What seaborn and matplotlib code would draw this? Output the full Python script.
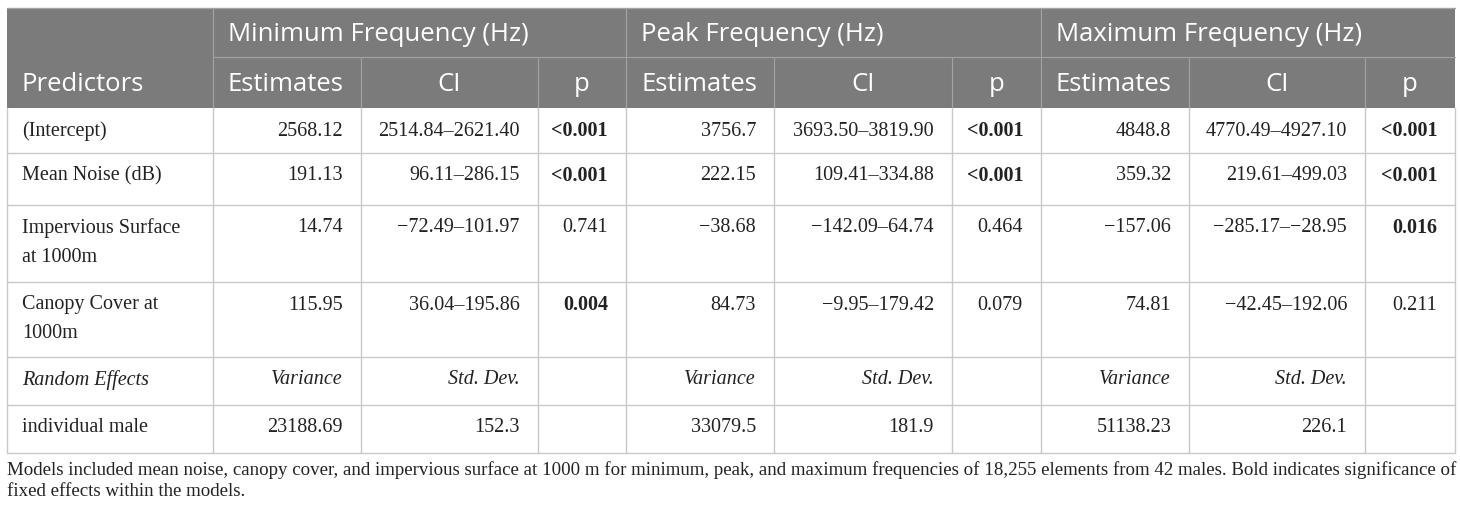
import matplotlib
matplotlib.use("Agg")
import matplotlib.pyplot as plt
import seaborn as sns

# Table content
groups = ["Minimum Frequency (Hz)", "Peak Frequency (Hz)", "Maximum Frequency (Hz)"]
sub_headers = ["Estimates", "CI", "p"]

predictors = ["(Intercept)", "Mean Noise (dB)", "Impervious Surface\nat 1000m", "Canopy Cover at\n1000m"]

min_est = ["2568.12", "191.13", "14.74", "115.95"]
min_ci = ["2514.84\u20132621.40", "96.11\u2013286.15", "\u221272.49\u2013101.97", "36.04\u2013195.86"]
min_p = ["<0.001", "<0.001", "0.741", "0.004"]

peak_est = ["3756.7", "222.15", "\u221238.68", "84.73"]
peak_ci = ["3693.50\u20133819.90", "109.41\u2013334.88", "\u2212142.09\u201364.74", "\u22129.95\u2013179.42"]
peak_p = ["<0.001", "<0.001", "0.464", "0.079"]

max_est = ["4848.8", "359.32", "\u2212157.06", "74.81"]
max_ci = ["4770.49\u20134927.10", "219.61\u2013499.03", "\u2212285.17\u2013\u221228.95", "\u221242.45\u2013192.06"]
max_p = ["<0.001", "<0.001", "0.016", "0.211"]

significant = ["<0.001", "0.004", "0.016"]

random_label = "Random Effects"
random_cols = ["Variance", "Std. Dev."]
random_name = "individual male"
variances = ["23188.69", "33079.5", "51138.23"]
std_devs = ["152.3", "181.9", "226.1"]

caption = ["Models included mean noise, canopy cover, and impervious surface at 1000 m for minimum, peak, "
           "and maximum frequencies of 18,255 elements from 42 males. Bold indicates significance of",
           "fixed effects within the models."]

# Layout (pixels)
col_edges = [7, 213, 361, 538, 626, 774, 952, 1041, 1189, 1365, 1455]
row_edges = [8, 57, 108, 153, 205, 282, 357, 405, 453]

sns.set_theme(style="white")
plt.rcParams["font.family"] = ["Liberation Serif", "DejaVu Serif"]

fig = plt.figure(figsize=(14.6, 5.11), dpi=100)
ax = fig.add_axes([0, 0, 1, 1])
ax.set_xlim(0, 1460)
ax.set_ylim(511, 0)
ax.axis("off")

header_bg = "#7b7b7b"
header_line = "#a3a3a3"
body_line = "#c9c9c9"
text_col = "#222222"
sans = ["Open Sans", "DejaVu Sans"]
serif = ["Liberation Serif", "DejaVu Serif"]
hsize = 18.5
bsize = 14.5

# header background
ax.fill_between([col_edges[0], col_edges[-1]], row_edges[0], row_edges[2], color=header_bg, lw=0)
ax.plot([col_edges[0], col_edges[-1]], [row_edges[0], row_edges[0]], color=header_line, lw=1)
ax.plot([col_edges[1], col_edges[-1]], [row_edges[1], row_edges[1]], color=header_line, lw=0.8)
for i in [1, 4, 7]:
    ax.plot([col_edges[i]] * 2, [row_edges[0], row_edges[2]], color=header_line, lw=0.8)
for i in [2, 3, 5, 6, 8, 9]:
    ax.plot([col_edges[i]] * 2, [row_edges[1], row_edges[2]], color=header_line, lw=0.8)

pad = 15
for g, name in enumerate(groups):
    x0 = col_edges[1 + 3 * g]
    ax.text(x0 + pad, (row_edges[0] + row_edges[1]) / 2 + 2, name, color="white",
            fontsize=hsize, family=sans, ha="left", va="center")
    for k, sub in enumerate(sub_headers):
        l, r = col_edges[1 + 3 * g + k], col_edges[2 + 3 * g + k]
        y = (row_edges[1] + row_edges[2]) / 2 + 2
        if k == 0:
            ax.text(l + pad, y, sub, color="white", fontsize=hsize, family=sans, ha="left", va="center")
        else:
            ax.text((l + r) / 2, y, sub, color="white", fontsize=hsize, family=sans, ha="center", va="center")
ax.text(col_edges[0] + pad, (row_edges[1] + row_edges[2]) / 2 + 2, "Predictors", color="white",
        fontsize=hsize, family=sans, ha="left", va="center")

# body grid
for y in row_edges[3:]:
    ax.plot([col_edges[0], col_edges[-1]], [y, y], color=body_line, lw=1)
for x in col_edges:
    ax.plot([x, x], [row_edges[2], row_edges[-1]], color=body_line, lw=1)


def cell(col, row, txt, ha="right", weight="normal", style="normal"):
    y = row_edges[row] + 23
    for j, line in enumerate(txt.split("\n")):
        if ha == "right":
            x = col_edges[col + 1] - 18
        else:
            x = col_edges[col] + pad
        ax.text(x, y + 29 * j, line, fontsize=bsize, family=serif, ha=ha, va="center",
                fontweight=weight, fontstyle=style, color=text_col)


series = [(min_est, min_ci, min_p), (peak_est, peak_ci, peak_p), (max_est, max_ci, max_p)]
for r, pred in enumerate(predictors):
    row = 2 + r
    cell(0, row, pred, ha="left")
    for g, (est, ci, p) in enumerate(series):
        cell(1 + 3 * g, row, est[r])
        cell(2 + 3 * g, row, ci[r])
        cell(3 + 3 * g, row, p[r], weight="bold" if p[r] in significant else "normal")

cell(0, 6, random_label, ha="left", style="italic")
for g in range(3):
    cell(1 + 3 * g, 6, random_cols[0], style="italic")
    cell(2 + 3 * g, 6, random_cols[1], style="italic")

cell(0, 7, random_name, ha="left")
for g in range(3):
    cell(1 + 3 * g, 7, variances[g])
    cell(2 + 3 * g, 7, std_devs[g])

for j, line in enumerate(caption):
    ax.text(col_edges[0], 470 + 21 * j, line, fontsize=13.6, family=serif, ha="left", va="center",
            color=text_col)

fig.savefig("out.png", dpi=100)
